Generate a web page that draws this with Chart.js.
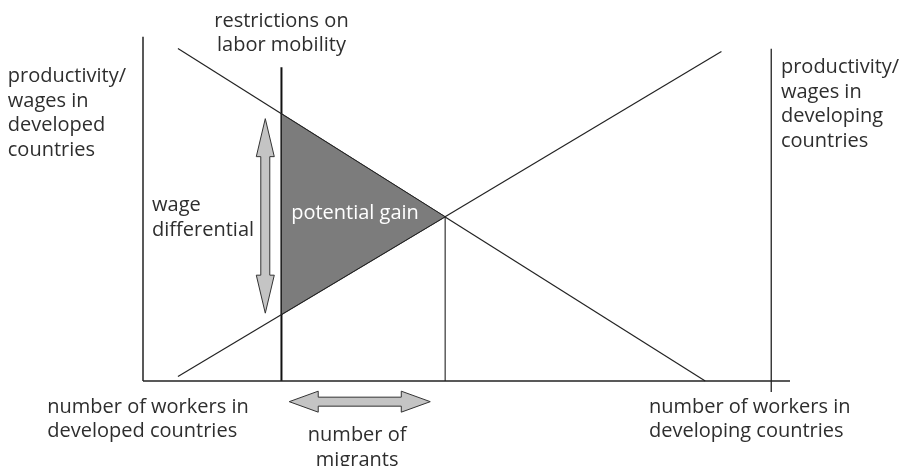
<!DOCTYPE html>
<html>
<head>
<meta charset="utf-8">
<script src="https://cdn.jsdelivr.net/npm/chart.js@4/dist/chart.umd.min.js"></script>
<style>
  html, body { margin: 0; padding: 0; background: #fff; }
  #wrap { width: 903px; height: 466px; position: relative; }
</style>
</head>
<body>
<div id="wrap"><canvas id="chartCanvas"></canvas></div>
<script>
// diagram values (x = workers, y = productivity / wages)
var leftAxis = [{x: 0, y: 0}, {x: 0, y: 100}];
var rightAxis = [{x: 97.1, y: -3.2}, {x: 97.1, y: 96.5}];
var bottomAxis = [{x: 0, y: 0}, {x: 100, y: 0}];
var developedLine = [{x: 5.4, y: 96.6}, {x: 86.9, y: 0}];
var developingLine = [{x: 5.4, y: 1.3}, {x: 89.4, y: 95.7}];
var restriction = [{x: 21.4, y: 0}, {x: 21.4, y: 91.1}];
var equilibrium = [{x: 46.7, y: 47.7}, {x: 46.7, y: 0}];
var gainTriangle = [{x: 21.4, y: 77.6}, {x: 46.7, y: 47.7}, {x: 21.4, y: 19.3}, {x: 21.4, y: 77.6}];
var wageArrow = {x: 18.9, from: 76.2, to: 19.7};
var migrantArrow = {y: -6.0, from: 22.6, to: 44.4};

var labels = [
  {lines: ['restrictions on', 'labor mobility'], x: 21.4, y: 104.6, align: 'center', color: '#2e2e2e'},
  {lines: ['productivity/', 'wages in', 'developed', 'countries'], x: -20.9, y: 88.4, align: 'left', color: '#2e2e2e'},
  {lines: ['productivity/', 'wages in', 'developing', 'countries'], x: 98.6, y: 91.0, align: 'left', color: '#2e2e2e'},
  {lines: ['wage', 'differential'], x: 1.4, y: 51.0, align: 'left', color: '#2e2e2e'},
  {lines: ['potential gain'], x: 22.9, y: 48.7, align: 'left', color: '#fff'},
  {lines: ['number of workers in', 'developed countries'], x: -14.8, y: -7.5, align: 'left', color: '#2e2e2e'},
  {lines: ['number of workers in', 'developing countries'], x: 78.2, y: -7.5, align: 'left', color: '#2e2e2e'},
  {lines: ['number of', 'migrants'], x: 33.1, y: -15.9, align: 'center', color: '#2e2e2e'}
];

function lineSet(data, width, color) {
  return {data: data, showLine: true, borderColor: color, borderWidth: width,
          pointRadius: 0, fill: false, clip: false, tension: 0};
}

var extras = {
  id: 'extras',
  afterDatasetsDraw: function(chart) {
    var ctx = chart.ctx;
    var xs = chart.scales.x, ys = chart.scales.y;
    ctx.save();
    ctx.fillStyle = '#c4c4c4';
    ctx.strokeStyle = '#333';
    ctx.lineWidth = 1;
    ctx.lineJoin = 'miter';

    // vertical double arrow
    var cx = xs.getPixelForValue(wageArrow.x);
    var t = ys.getPixelForValue(wageArrow.from), b = ys.getPixelForValue(wageArrow.to);
    var sw = 4.5, hw = 9, hl = 38;
    ctx.beginPath();
    ctx.moveTo(cx, t);
    ctx.lineTo(cx + hw, t + hl); ctx.lineTo(cx + sw, t + hl);
    ctx.lineTo(cx + sw, b - hl); ctx.lineTo(cx + hw, b - hl);
    ctx.lineTo(cx, b);
    ctx.lineTo(cx - hw, b - hl); ctx.lineTo(cx - sw, b - hl);
    ctx.lineTo(cx - sw, t + hl); ctx.lineTo(cx - hw, t + hl);
    ctx.closePath();
    ctx.fill(); ctx.stroke();

    // horizontal double arrow
    var cy = ys.getPixelForValue(migrantArrow.y);
    var l = xs.getPixelForValue(migrantArrow.from), r = xs.getPixelForValue(migrantArrow.to);
    var hh = 10.5, sh = 4.5, hlen = 29;
    ctx.beginPath();
    ctx.moveTo(l, cy);
    ctx.lineTo(l + hlen, cy - hh); ctx.lineTo(l + hlen, cy - sh);
    ctx.lineTo(r - hlen, cy - sh); ctx.lineTo(r - hlen, cy - hh);
    ctx.lineTo(r, cy);
    ctx.lineTo(r - hlen, cy + hh); ctx.lineTo(r - hlen, cy + sh);
    ctx.lineTo(l + hlen, cy + sh); ctx.lineTo(l + hlen, cy + hh);
    ctx.closePath();
    ctx.fill(); ctx.stroke();

    // text
    ctx.font = '20px "Open Sans"';
    ctx.textBaseline = 'middle';
    labels.forEach(function(lb) {
      ctx.fillStyle = lb.color;
      ctx.textAlign = lb.align;
      var px = xs.getPixelForValue(lb.x), py = ys.getPixelForValue(lb.y);
      lb.lines.forEach(function(s, i) { ctx.fillText(s, px, py + i * 24.5); });
    });
    ctx.restore();
  }
};

var ctx = document.getElementById('chartCanvas');
var diagram = new Chart(ctx, {
  type: 'scatter',
  data: {
    datasets: [
      {data: gainTriangle, showLine: true, borderColor: '#222', borderWidth: 1,
       backgroundColor: '#7c7c7c', fill: 'shape', pointRadius: 0, clip: false, tension: 0},
      lineSet(leftAxis, 1.5, '#222'),
      lineSet(rightAxis, 1.3, '#222'),
      lineSet(bottomAxis, 1.5, '#222'),
      lineSet(developedLine, 1.2, '#222'),
      lineSet(developingLine, 1.2, '#222'),
      lineSet(restriction, 2, '#111'),
      lineSet(equilibrium, 1.1, '#222')
    ]
  },
  options: {
    responsive: true,
    maintainAspectRatio: false,
    animation: false,
    layout: {padding: {left: 143, right: 113, top: 36.7, bottom: 85}},
    scales: {
      x: {type: 'linear', min: 0, max: 100, display: false},
      y: {type: 'linear', min: 0, max: 100, display: false}
    },
    plugins: {legend: {display: false}, tooltip: {enabled: false}}
  },
  plugins: [extras]
});
</script>
</body>
</html>
